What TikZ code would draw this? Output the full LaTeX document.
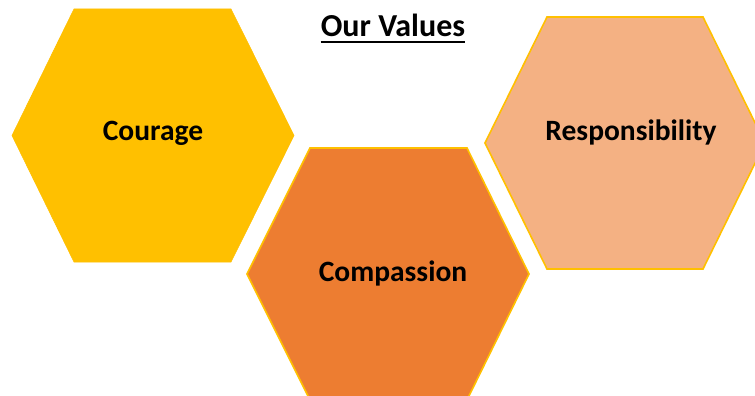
\documentclass[tikz,border=0pt]{standalone}
\usepackage{fontspec}
\setmainfont{Carlito}
\definecolor{gold}{HTML}{FFC000}
\definecolor{orangeD}{HTML}{ED7D31}
\definecolor{peach}{HTML}{F4B183}
\tikzset{
  hexfill/.style={draw=gold, line width=1.6pt, line join=miter},
  valuetext/.style={font=\bfseries\fontsize{29.5}{32}\selectfont, text=black, inner sep=0pt},
}
% flat-topped hexagon: left x, top-left x, top-right x, right x, top y, bottom y
\newcommand{\hexpath}[6]{(#1,{(#5+#6)/2}) -- (#2,#5) -- (#3,#5) -- (#4,{(#5+#6)/2}) -- (#3,#6) -- (#2,#6) -- cycle}
\begin{document}
\begin{tikzpicture}[x=1pt,y=-1pt]
  \useasboundingbox (0,0) rectangle (755,396);
  \clip (0,0) rectangle (755,396);
  \fill[white] (0,0) rectangle (755,396);
  % the three value hexagons
  \filldraw[hexfill, fill=gold, line width=0.6pt] \hexpath{12}{74}{231}{294}{9}{262};
  \filldraw[hexfill, fill=orangeD] \hexpath{247}{310}{467}{529}{148}{400};
  \filldraw[hexfill, fill=peach] \hexpath{485}{547}{703}{765}{17}{269};
  % labels
  \node[valuetext] (courage) at (153,133) {Courage};
  \node[valuetext] (compassion) at (393,273) {Compassion};
  \node[valuetext] (responsibility) at (631,132) {Responsibility};
  % heading
  \node[font=\bfseries\fontsize{32}{35}\selectfont, inner sep=0pt, anchor=base] (title) at (393,37) {Our Values};
  \draw[line width=2.2pt] (title.base west) ++(0,5) coordinate (ulA) -- (title.base east |- ulA);
\end{tikzpicture}
\end{document}
